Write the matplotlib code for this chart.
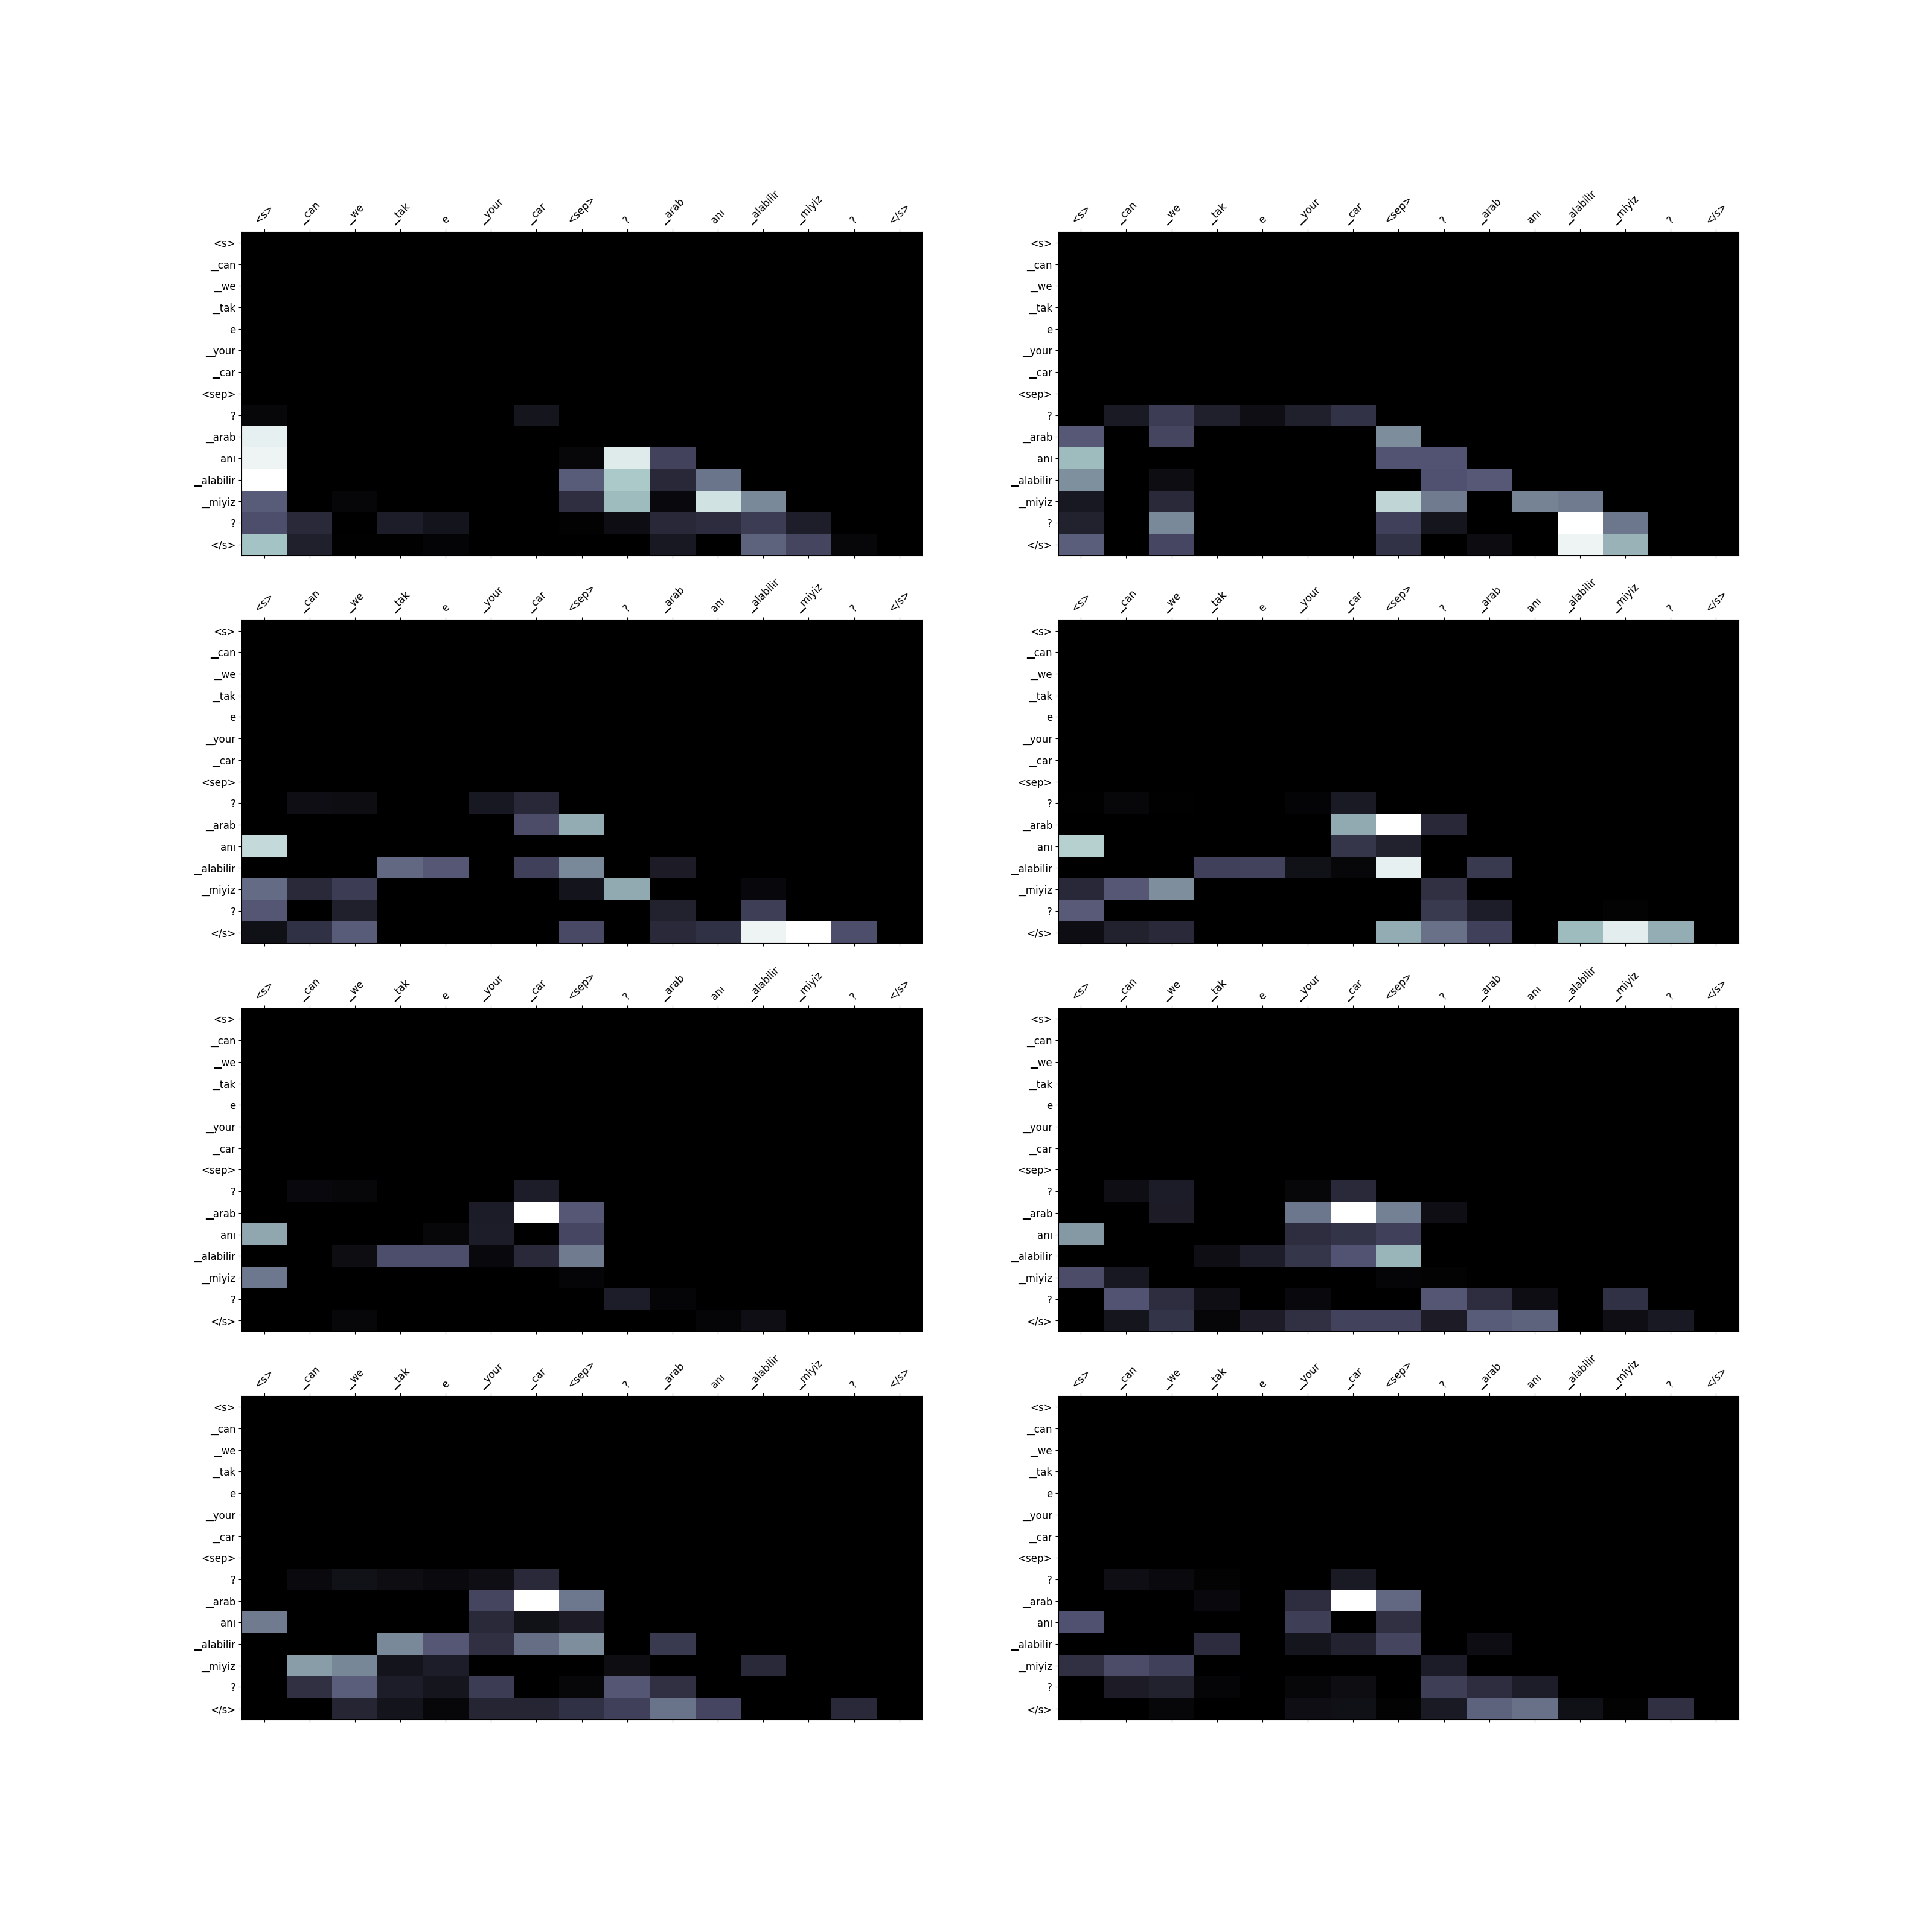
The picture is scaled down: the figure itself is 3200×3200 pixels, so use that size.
import numpy as np
import matplotlib
matplotlib.use("Agg")
import matplotlib.pyplot as plt

tokens = ["<s>", "\u2581can", "\u2581we", "\u2581tak", "e", "\u2581your", "\u2581car", "<sep>",
          "?", "\u2581arab", "anı", "\u2581alabilir", "\u2581miyiz", "?", "</s>"]

# Rows <s> .. <sep> (first 8 rows) read as zero in every head; values below are rows "?" .. "</s>"
head_1 = [
    [0.035, 0, 0, 0, 0, 0, 0.10, 0, 0, 0, 0, 0, 0, 0, 0],
    [0.93, 0, 0, 0, 0, 0, 0, 0, 0, 0, 0, 0, 0, 0, 0],
    [0.95, 0, 0, 0, 0, 0, 0, 0.035, 0.91, 0.30, 0, 0, 0, 0, 0],
    [1.00, 0, 0, 0, 0, 0, 0, 0.40, 0.76, 0.18, 0.48, 0, 0, 0, 0],
    [0.40, 0, 0.03, 0, 0, 0, 0, 0.21, 0.71, 0.045, 0.87, 0.55, 0, 0, 0],
    [0.35, 0.19, 0, 0.135, 0.09, 0, 0, 0.015, 0.065, 0.18, 0.20, 0.27, 0.14, 0, 0],
    [0.735, 0.145, 0.01, 0.01, 0.02, 0, 0, 0, 0, 0.11, 0, 0.42, 0.31, 0.035, 0],
]
head_2 = [
    [0, 0.12, 0.27, 0.145, 0.07, 0.145, 0.23, 0, 0, 0, 0, 0, 0, 0, 0],
    [0.39, 0, 0.31, 0, 0, 0, 0, 0.56, 0, 0, 0, 0, 0, 0, 0],
    [0.71, 0, 0, 0, 0, 0, 0, 0.37, 0.37, 0, 0, 0, 0, 0, 0],
    [0.57, 0, 0.06, 0, 0, 0, 0, 0, 0.36, 0.39, 0, 0, 0, 0, 0],
    [0.11, 0, 0.19, 0, 0, 0, 0, 0.82, 0.50, 0, 0.53, 0.50, 0, 0, 0],
    [0.155, 0, 0.55, 0, 0, 0, 0, 0.29, 0.10, 0, 0, 1.00, 0.485, 0, 0],
    [0.41, 0, 0.32, 0, 0, 0, 0, 0.23, 0, 0.055, 0, 0.95, 0.68, 0, 0],
]
head_3 = [
    [0, 0.07, 0.06, 0, 0, 0.11, 0.18, 0, 0, 0, 0, 0, 0, 0, 0],
    [0, 0, 0, 0, 0, 0, 0.34, 0.66, 0, 0, 0, 0, 0, 0, 0],
    [0.83, 0, 0, 0, 0, 0, 0, 0, 0, 0, 0, 0, 0, 0, 0],
    [0, 0, 0, 0.44, 0.385, 0, 0.29, 0.55, 0, 0.125, 0, 0, 0, 0, 0],
    [0.45, 0.19, 0.27, 0, 0, 0, 0, 0.09, 0.65, 0, 0, 0.04, 0, 0, 0],
    [0.38, 0, 0.145, 0, 0, 0, 0, 0, 0, 0.155, 0, 0.28, 0, 0, 0],
    [0.075, 0.225, 0.40, 0, 0, 0, 0, 0.33, 0, 0.19, 0.225, 0.95, 1.00, 0.35, 0],
]
head_4 = [
    [0.01, 0.035, 0.01, 0, 0, 0.02, 0.12, 0, 0, 0, 0, 0, 0, 0, 0],
    [0, 0, 0, 0, 0, 0, 0.65, 1.00, 0.18, 0, 0, 0, 0, 0, 0],
    [0.79, 0, 0, 0, 0, 0, 0.245, 0.155, 0, 0, 0, 0, 0, 0, 0],
    [0, 0, 0, 0.29, 0.30, 0.08, 0.035, 0.93, 0, 0.26, 0, 0, 0, 0, 0],
    [0.18, 0.385, 0.565, 0, 0, 0, 0, 0, 0.215, 0, 0, 0, 0, 0, 0],
    [0.395, 0, 0, 0, 0, 0, 0, 0, 0.26, 0.135, 0, 0, 0.018, 0, 0],
    [0.065, 0.155, 0.19, 0, 0, 0, 0, 0.66, 0.47, 0.29, 0, 0.71, 0.92, 0.665, 0],
]
head_5 = [
    [0, 0.045, 0.035, 0, 0, 0, 0.135, 0, 0, 0, 0, 0, 0, 0, 0],
    [0, 0, 0, 0, 0, 0.13, 1.00, 0.385, 0, 0, 0, 0, 0, 0, 0],
    [0.645, 0, 0, 0, 0.035, 0.135, 0, 0.32, 0, 0, 0, 0, 0, 0, 0],
    [0, 0, 0.06, 0.35, 0.35, 0.045, 0.19, 0.50, 0, 0, 0, 0, 0, 0, 0],
    [0.49, 0, 0, 0, 0, 0, 0, 0.025, 0, 0, 0, 0, 0, 0, 0],
    [0, 0, 0, 0, 0, 0, 0, 0, 0.135, 0.025, 0, 0, 0, 0, 0],
    [0, 0, 0.035, 0, 0, 0, 0, 0, 0, 0, 0.025, 0.07, 0, 0, 0],
]
head_6 = [
    [0, 0.07, 0.13, 0, 0, 0.035, 0.19, 0, 0, 0, 0, 0, 0, 0, 0],
    [0, 0, 0.125, 0, 0, 0.485, 1.00, 0.52, 0.07, 0, 0, 0, 0, 0, 0],
    [0.60, 0, 0, 0, 0, 0.205, 0.235, 0.29, 0, 0, 0, 0, 0, 0, 0],
    [0, 0, 0, 0.07, 0.135, 0.245, 0.37, 0.69, 0, 0, 0, 0, 0, 0, 0],
    [0.34, 0.11, 0, 0, 0, 0, 0, 0.025, 0.018, 0, 0, 0, 0, 0, 0],
    [0, 0.37, 0.205, 0.07, 0, 0.045, 0, 0, 0.38, 0.205, 0.065, 0, 0.225, 0, 0],
    [0, 0.10, 0.235, 0.03, 0.125, 0.215, 0.30, 0.30, 0.125, 0.40, 0.42, 0, 0.07, 0.115, 0],
]
head_7 = [
    [0, 0.05, 0.08, 0.06, 0.05, 0.07, 0.19, 0, 0, 0, 0, 0, 0, 0, 0],
    [0, 0, 0, 0, 0, 0.31, 1.00, 0.49, 0, 0, 0, 0, 0, 0, 0],
    [0.50, 0, 0, 0, 0, 0.19, 0.08, 0.125, 0, 0, 0, 0, 0, 0, 0],
    [0, 0, 0, 0.55, 0.385, 0.215, 0.46, 0.565, 0, 0.26, 0, 0, 0, 0, 0],
    [0, 0.61, 0.54, 0.09, 0.135, 0, 0, 0, 0.06, 0, 0, 0.19, 0, 0, 0],
    [0, 0.215, 0.41, 0.135, 0.10, 0.27, 0, 0.035, 0.38, 0.215, 0, 0, 0, 0, 0],
    [0, 0, 0.17, 0.09, 0.035, 0.17, 0.17, 0.225, 0.29, 0.475, 0.315, 0, 0, 0.19, 0],
]
head_8 = [
    [0, 0.07, 0.05, 0.018, 0, 0, 0.12, 0, 0, 0, 0, 0, 0, 0, 0],
    [0, 0, 0, 0.045, 0, 0.205, 1.00, 0.44, 0, 0, 0, 0, 0, 0, 0],
    [0.36, 0, 0, 0, 0, 0.28, 0, 0.215, 0, 0, 0, 0, 0, 0, 0],
    [0, 0, 0, 0.20, 0, 0.10, 0.16, 0.31, 0, 0.065, 0, 0, 0, 0, 0],
    [0.215, 0.34, 0.29, 0, 0, 0, 0, 0, 0.13, 0, 0, 0, 0, 0, 0],
    [0, 0.125, 0.155, 0.025, 0, 0.035, 0.06, 0, 0.28, 0.205, 0.135, 0, 0, 0, 0],
    [0, 0, 0.035, 0, 0, 0.07, 0.075, 0.018, 0.12, 0.42, 0.47, 0.075, 0.018, 0.215, 0],
]

heads = [head_1, head_2, head_3, head_4, head_5, head_6, head_7, head_8]

n = len(tokens)
fig, axes = plt.subplots(4, 2, figsize=(32, 32), dpi=100)
for ax, h in zip(axes.flat, heads):
    lower = np.array(h, dtype=float)
    mat = np.zeros((n, n))
    mat[n - lower.shape[0]:, :] = lower
    ax.matshow(mat, cmap="bone", aspect="auto")
    ax.set_xticks(range(n))
    ax.set_yticks(range(n))
    ax.set_xticklabels(tokens, rotation=45, fontsize=12)
    ax.set_yticklabels(tokens, fontsize=12)

fig.savefig("out.png", dpi=100)
